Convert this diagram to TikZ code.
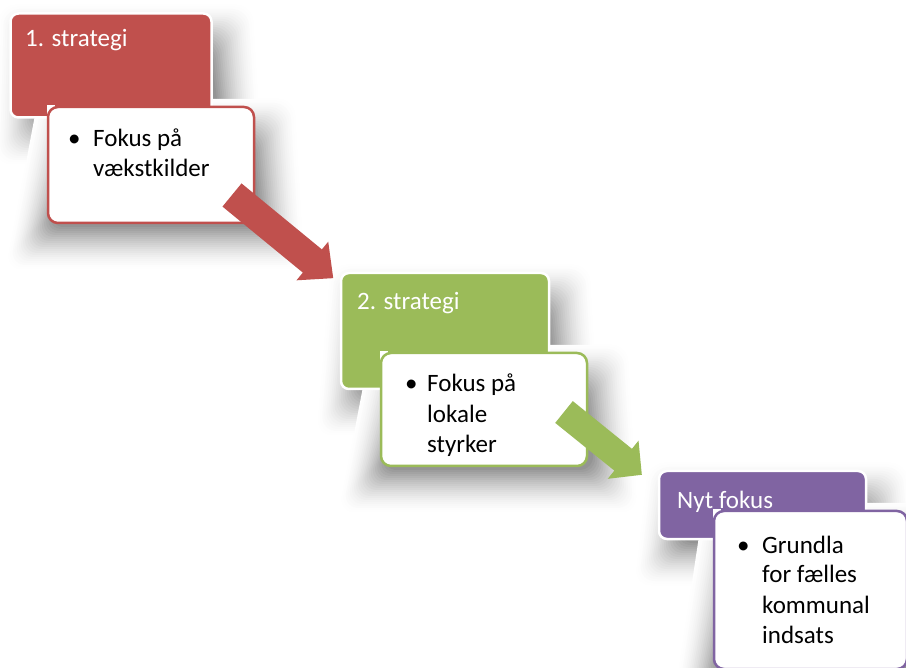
\documentclass[tikz,border=0pt]{standalone}
\usepackage{fontspec}
\setmainfont{Carlito}
\definecolor{cred}{HTML}{C0504D}
\definecolor{cgreen}{HTML}{9BBB59}
\definecolor{cpurple}{HTML}{8064A2}
\newcommand{\boxshadow}[5]{%
  \foreach \k in {0,...,21}{%
    \pgfmathsetmacro{\sd}{44-2*\k}%
    \pgfmathsetmacro{\sp}{1-0.42*((\k+1)/22)^1.6}%
    \definecolor{shc}{rgb}{\sp,\sp,\sp}%
    \fill[shc, rounded corners=16pt]
      ({#1+34-\sd},{#2+36-\sd}) -- ({#3-4+\sd},{#2+36-\sd}) -- ({#3+6+\sd},{#4+2+\sd}) -- ({#1+#5-\sd},{#4+2+\sd}) -- cycle;
  }}
\begin{document}
\begin{tikzpicture}[x=1pt,y=-1pt,
  every node/.style={font=\fontsize{25}{30}\selectfont},
  stage/.style={draw=white, line width=2.5pt, rounded corners=8pt, inner sep=0pt},
  detail/.style={fill=white, line width=2.5pt, rounded corners=10pt, inner sep=0pt},
  notch/.style={fill=white},
  lbl/.style={anchor=base west, inner sep=0pt},
  wlbl/.style={lbl, text=white}
]
\fill[white] (0,0) rectangle (906,668);
\useasboundingbox (0,0) rectangle (906,668);

% shadows
\boxshadow{10}{13}{212}{118}{30}
\boxshadow{48}{107}{254}{223}{2}
\boxshadow{341}{273}{549}{389}{20}
\boxshadow{381}{353}{587}{466}{2}
\boxshadow{659}{471}{866}{539}{20}
\boxshadow{714}{511}{907}{669}{2}

% stage 1
\node[stage, fill=cred, minimum width=201pt, minimum height=104pt] (s1) at (111,65.5) {};
\node[wlbl] (s1t) at (25,47) {1. strategi};
\fill[notch] (46.5,105.5) rectangle (55,114);
\node[detail, draw=cred, minimum width=206pt, minimum height=116pt] (d1) at (151,165) {};
\node[lbl] (d1b) at (68,147) {•};
\node[lbl] (d1a) at (93,147) {Fokus på};
\node[lbl] (d1c) at (93,177) {vækstkilder};

% stage 2
\node[stage, fill=cgreen, minimum width=208pt, minimum height=116pt] (s2) at (445,331) {};
\node[wlbl] (s2t) at (357,310) {2. strategi};
\fill[notch] (379.5,351.5) rectangle (388,360);
\node[detail, draw=cgreen, minimum width=206pt, minimum height=113pt] (d2) at (484,409.5) {};
\node[lbl] (d2b) at (405,392) {•};
\node[lbl] (d2a) at (427,392) {Fokus på};
\node[lbl] (d2c) at (427,423) {lokale};
\node[lbl] (d2d) at (427,453) {styrker};

% stage 3
\node[stage, fill=cpurple, minimum width=207pt, minimum height=68pt] (s3) at (762.5,505) {};
\node[wlbl] (s3t) at (677,508) {Nyt fokus};
\fill[notch] (712.5,509.5) rectangle (721,518);
\node[detail, draw=cpurple, minimum width=193pt, minimum height=158pt] (d3) at (810.5,590) {};
\node[lbl] (d3b) at (737,553) {•};
\node[lbl] (d3a) at (762,553) {Grundla};
\node[lbl] (d3c) at (762,583) {for fælles};
\node[lbl] (d3d) at (762,613) {kommunal};
\node[lbl] (d3e) at (762,643) {indsats};

% block arrows
\begin{scope}[shift={(232,195)}, rotate=-39.4]
  \fill[cred] (0,-15) -- (104,-15) -- (104,-25) -- (131,0) -- (104,25) -- (104,15) -- (0,15) -- cycle;
\end{scope}
\begin{scope}[shift={(564,412)}, rotate=-38.9]
  \fill[cgreen] (0,-14) -- (76,-14) -- (76,-24.5) -- (100,0) -- (76,24.5) -- (76,14) -- (0,14) -- cycle;
\end{scope}
\end{tikzpicture}
\end{document}
